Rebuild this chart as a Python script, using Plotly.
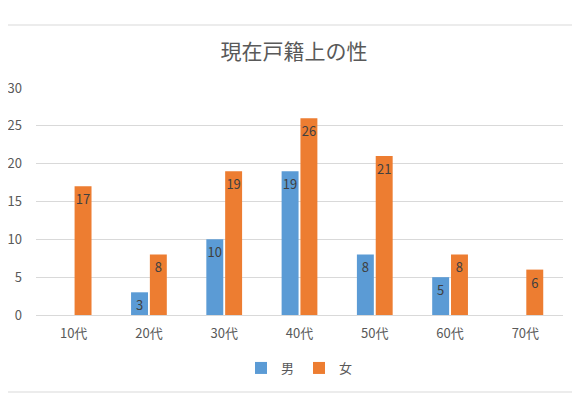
import plotly.graph_objects as go

categories = ["10代", "20代", "30代", "40代", "50代", "60代", "70代"]
male = [None, 3, 10, 19, 8, 5, None]
female = [17, 8, 19, 26, 21, 8, 6]
y_ticks = [0, 5, 10, 15, 20, 25, 30]

FONT = "Noto Sans CJK JP, Noto Sans, sans-serif"

# page body has an 8px margin: compensate so the plot lands where the reference has it
OFF = 8
W, H = 580 - OFF, 397 - OFF
ML, MR, MT, MB = 36 - OFF, 17, 88 - OFF, 82
PH = H - MT - MB

fig = go.Figure()
fig.add_trace(go.Bar(
    x=categories, y=male, name="男",
    marker=dict(color="#5B9BD5", line=dict(width=0)),
    text=[("" if v is None else str(v)) for v in male],
    textposition="inside", insidetextanchor="end",
    textfont=dict(color="#404040", size=13, family=FONT),
    constraintext="none",
))
fig.add_trace(go.Bar(
    x=categories, y=female, name="女",
    marker=dict(color="#ED7D31", line=dict(width=0)),
    text=[str(v) for v in female],
    textposition="inside", insidetextanchor="end",
    textfont=dict(color="#404040", size=13, family=FONT),
    constraintext="none",
))

fig.update_layout(
    width=W, height=H,
    margin=dict(l=ML, r=MR, t=MT, b=MB, autoexpand=False),
    paper_bgcolor="white", plot_bgcolor="white",
    font=dict(family=FONT, color="#595959", size=13),
    title=dict(text="現在戸籍上の性", x=0.5, xanchor="center",
               y=1 - (52 - OFF) / H, yanchor="middle",
               font=dict(size=21, color="#595959", family=FONT)),
    barmode="group", bargap=0.5, bargroupgap=0.1,
    showlegend=True,
    legend=dict(orientation="h", x=0.5, xanchor="center",
                y=-(368 - 315) / PH, yanchor="middle",
                font=dict(size=13, color="#595959", family=FONT),
                itemwidth=30, traceorder="normal"),
    xaxis=dict(showgrid=False, showline=False, ticks="", ticklabelstandoff=9,
               tickfont=dict(size=13, color="#595959")),
    yaxis=dict(range=[0, 30], tickvals=y_ticks, showgrid=True, gridcolor="#D9D9D9", gridwidth=1,
               zeroline=True, zerolinecolor="#D9D9D9", zerolinewidth=1,
               showline=False, ticks="", ticklabelstandoff=13,
               tickfont=dict(size=13, color="#595959")),
    shapes=[
        dict(type="line", xref="paper", yref="paper", x0=-0.2, x1=1.2,
             y0=(315 - 25) / PH, y1=(315 - 25) / PH,
             line=dict(color="#D9D9D9", width=1)),
        dict(type="line", xref="paper", yref="paper", x0=-0.2, x1=1.2,
             y0=(315 - 392) / PH, y1=(315 - 392) / PH,
             line=dict(color="#D9D9D9", width=1)),
    ],
)

fig.write_html("out.html")
